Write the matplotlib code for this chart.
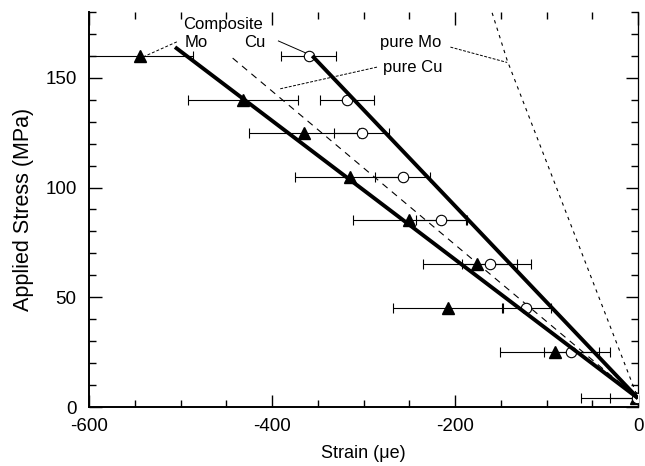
import matplotlib
matplotlib.use("Agg")
import matplotlib.pyplot as plt
from matplotlib.ticker import MultipleLocator

plt.rcParams['font.family'] = ['Liberation Sans', 'DejaVu Sans']
plt.rcParams['axes.unicode_minus'] = False

# Measured data
stress = [160, 140, 125, 105, 85, 65, 45, 25, 4]
mo_strain = [-544, -432, -365, -315, -250, -176, -208, -91, -2]
mo_err = [58, 60, 60, 60, 62, 59, 60, 60, 60]
cu_strain = [-360, -318, -302, -257, -215, -162, -122, -73, -1]
cu_err = [30, 29, 30, 30, 28, 30, 27, 30, 30]

# Fit / model lines
comp_mo_x = [-506, 0]
comp_mo_y = [164, 4]
comp_cu_x = [-356, 0]
comp_cu_y = [160, 4]
pure_cu_x = [-443, 0]
pure_cu_y = [159, 4]
pure_mo_x = [-162, -143, 0]
pure_mo_y = [183, 158, 4]

fig = plt.figure(figsize=(6.45, 4.66), dpi=100)
ax = fig.add_axes([89/645, (466-407)/466, (638-89)/645, (407-12)/466])

ax.errorbar(mo_strain, stress, xerr=mo_err, fmt='^', color='black',
            ms=8.5, elinewidth=0.8, capsize=3.5, capthick=0.8, zorder=3)
ax.errorbar(cu_strain, stress, xerr=cu_err, fmt='o', color='black', mfc='white',
            mec='black', mew=0.8, ms=7.5, elinewidth=0.8, capsize=3.5, capthick=0.8, zorder=3)

ax.plot(comp_mo_x, comp_mo_y, color='black', lw=2.8, zorder=4, solid_capstyle='butt')
ax.plot(comp_cu_x, comp_cu_y, color='black', lw=2.8, zorder=4, solid_capstyle='butt')
ax.plot(pure_cu_x, pure_cu_y, color='black', lw=0.8, dashes=(6, 5), zorder=2)
ax.plot(pure_mo_x, pure_mo_y, color='black', lw=0.8, dashes=(3, 4), zorder=2)

fs = 12
ax.text(-497, 174.3, 'Composite', fontsize=fs, ha='left', va='center')
ax.text(-495, 166.0, 'Mo', fontsize=fs, ha='left', va='center')
ax.text(-430, 166.0, 'Cu', fontsize=fs, ha='left', va='center')
ax.text(-282, 166.0, 'pure Mo', fontsize=fs, ha='left', va='center')
ax.text(-279, 154.6, 'pure Cu', fontsize=fs, ha='left', va='center')

ax.plot([-504, -541], [166.4, 159.5], color='black', lw=0.7, dashes=(3, 2))
ax.plot([-393, -358], [166.8, 160.4], color='black', lw=0.7)
ax.plot([-205, -143], [164, 157], color='black', lw=0.7, dashes=(3, 1.5))
ax.plot([-391, -284], [145, 155], color='black', lw=0.7, dashes=(3, 1.5))

ax.set_xlim(-600, 0)
ax.set_ylim(0, 180)
ax.xaxis.set_major_locator(MultipleLocator(200))
ax.xaxis.set_minor_locator(MultipleLocator(50))
ax.yaxis.set_major_locator(MultipleLocator(50))
ax.yaxis.set_minor_locator(MultipleLocator(10))
ax.tick_params(which='both', direction='in', top=True, right=True, labelsize=13.5, width=1)
ax.tick_params(which='major', length=9)
ax.tick_params(which='minor', length=5)
ax.tick_params(axis='x', pad=8)
ax.tick_params(axis='y', pad=9)

for s in ['left', 'bottom']:
    ax.spines[s].set_linewidth(1.4)
ax.spines['right'].set_linewidth(0.9)
ax.spines['top'].set_visible(False)

ax.set_xlabel('Strain (\u03bce)', fontsize=13, labelpad=7)
ax.set_ylabel('Applied Stress (MPa)', fontsize=15.5, labelpad=8)

fig.savefig('out.png', dpi=100)
